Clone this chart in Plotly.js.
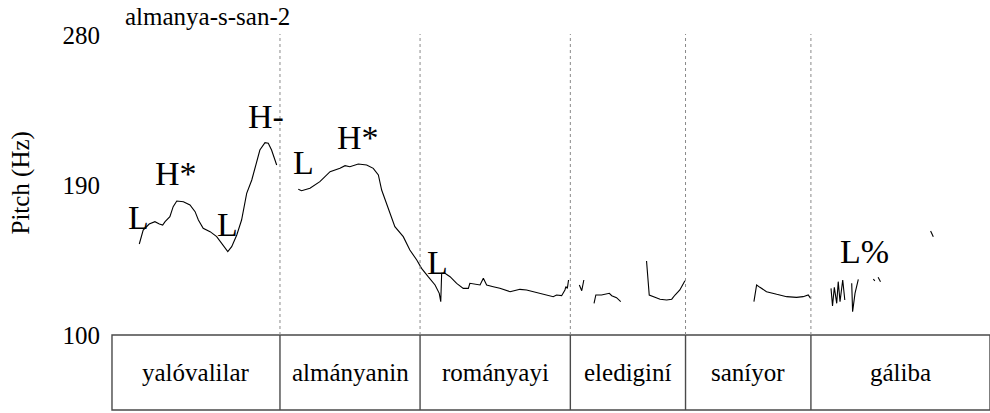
<!DOCTYPE html>
<html>
<head>
<meta charset="utf-8">
<script src="https://cdn.plot.ly/plotly-3.0.1.min.js"></script>
<style>html,body{margin:0;padding:0;background:#fff;}#chart{width:990px;height:413px;}</style>
</head>
<body>
<div id="chart"></div>
<script>
// ---- data ----
var chartTitle = "almanya-s-san-2";
var yTicks = [100, 190, 280];
var totalDuration = 2.927;
// word tier: boundaries (s) and labels
var wordBounds = [0, 0.56, 1.027, 1.528, 1.912, 2.33, 2.927];
var words = ["yalóvalilar", "almányanin", "rományayi", "elediginí", "saníyor", "gáliba"];
// pitch track (s, Hz); null separates unvoiced gaps
var pitchTime = [
  0.091,0.099,0.104,0.124,0.143,0.158,0.169,0.177,0.193,0.204,0.216,0.238,0.260,0.277,0.288,0.304,0.327,0.349,0.371,0.386,0.399,0.416,0.432,0.449,0.466,0.477,0.493,0.510,0.521,0.532,0.549,
  null,
  0.621,0.632,0.660,0.693,0.727,0.760,0.777,0.793,0.821,0.849,0.871,0.888,0.899,0.916,0.943,0.971,0.993,1.016,1.032,1.054,1.077,1.091,1.096,1.099,1.110,1.127,1.149,1.171,1.188,1.193,1.227,1.238,1.249,1.271,1.293,1.327,1.360,1.382,1.416,1.449,1.471,1.482,1.499,1.510,1.513,1.518,1.522,
  null,
  1.558,1.566,1.573,
  null,
  1.607,1.613,1.632,1.649,1.658,1.666,1.682,1.696,
  null,
  1.782,1.791,1.810,1.827,1.849,1.866,1.877,1.893,1.910,
  null,
  2.140,2.149,2.160,2.182,2.216,2.249,2.282,2.304,2.321,2.329,
  null,
  2.397,2.402,2.408,2.416,2.421,2.427,2.436,2.443,
  null,
  2.466,2.469,2.477,2.488,
  null,
  2.538,2.543,
  null,
  2.554,2.562,
  null,
  2.729,2.738
];
var pitchHz = [
  154.6,159,163,166.6,168,166.6,166,168,171,177,180.4,180,178,174,169,164,162,159,154,150,153,160,169,185,193,201,211,215.4,215,211,202,
  null,
  187.4,186.6,188,192,198,200,201.6,201,202.6,202,200,196,187,178,165,159,151,145,140,135,130,125,120,137,137,135,131,128,128,131,130,134,130,129,128,126,127.4,127,125.4,124,123,124,123.6,127,129,128,133,
  null,
  130,126.6,133,
  null,
  119,124,124,124.4,125,123.6,122.4,120,
  null,
  144.4,124,122.6,121.4,121,121.5,124,127,132.6,
  null,
  120,130,128.6,126,124.4,123,122.6,123,124,122,
  null,
  128,117.4,128.6,119,132,120,133,121,
  null,
  131,114,125,133.4,
  null,
  133.6,132.5,
  null,
  134.6,132,
  null,
  162.4,159
];
// ToBI tone labels
var toneLabels = ["L", "H*", "L", "H-", "L", "H*", "L", "L%"];
var toneTime   = [0.087, 0.215, 0.385, 0.512, 0.64, 0.82, 1.085, 2.507];
var toneHz     = [170.8, 197.2, 166.6, 231.4, 203.5, 218.8, 143.5, 150.1];

// ---- layout ----
var serif = "'Liberation Serif', 'Times New Roman', Times, 'DejaVu Serif', serif";
var tierTop = 100, tierBottom = 55;
var shapes = [];
shapes.push({type:"rect", xref:"x", yref:"y", x0:wordBounds[0], x1:wordBounds[wordBounds.length-1], y0:tierBottom, y1:tierTop,
  line:{color:"#4a4a4a", width:1.4}, fillcolor:"rgba(0,0,0,0)"});
for (var i = 1; i < wordBounds.length - 1; i++) {
  shapes.push({type:"line", xref:"x", yref:"y", x0:wordBounds[i], x1:wordBounds[i], y0:tierBottom, y1:tierTop,
    line:{color:"#4a4a4a", width:1.4}});
  shapes.push({type:"line", xref:"x", yref:"y", x0:wordBounds[i], x1:wordBounds[i], y0:tierTop, y1:280.6,
    line:{color:"#8a8a8a", width:1, dash:"dot"}});
}
var annotations = [];
for (var j = 0; j < words.length; j++) {
  annotations.push({xref:"x", yref:"y", x:(wordBounds[j]+wordBounds[j+1])/2, y:(tierTop+tierBottom)/2,
    text:words[j], showarrow:false, font:{family:serif, size:25, color:"#000"}});
}
for (var k = 0; k < toneLabels.length; k++) {
  annotations.push({xref:"x", yref:"y", x:toneTime[k], y:toneHz[k], text:toneLabels[k], showarrow:false,
    font:{family:serif, size:34, color:"#000"}});
}
annotations.push({xref:"paper", yref:"paper", x:-0.1024, y:0.606, xanchor:"center", yanchor:"middle",
  text:"Pitch (Hz)", textangle:-90, showarrow:false, font:{family:serif, size:25, color:"#000"}});

var trace = {x:pitchTime, y:pitchHz, type:"scatter", mode:"lines", connectgaps:false,
  line:{color:"#000", width:1.1}, hoverinfo:"x+y"};

var layout = {
  width:990, height:413,
  margin:{l:111, r:0, t:34, b:2},
  paper_bgcolor:"#fff", plot_bgcolor:"#fff",
  showlegend:false,
  font:{family:serif, color:"#000"},
  title:{text:chartTitle, x:125/990, xref:"container", xanchor:"left", y:1-16/413, yanchor:"middle",
    font:{family:serif, size:25, color:"#000"}},
  xaxis:{range:[-0.0033, totalDuration], showgrid:false, zeroline:false, showline:false, showticklabels:false, ticks:""},
  yaxis:{range:[54.4, 280.6], tickvals:yTicks, ticktext:yTicks.map(String), showgrid:false, zeroline:false, showline:false,
    ticks:"outside", ticklen:5, tickcolor:"rgba(0,0,0,0)", tickfont:{family:serif, size:25, color:"#000"}},
  shapes:shapes,
  annotations:annotations
};
Plotly.newPlot("chart", [trace], layout, {displayModeBar:false, staticPlot:true});
</script>
</body>
</html>
